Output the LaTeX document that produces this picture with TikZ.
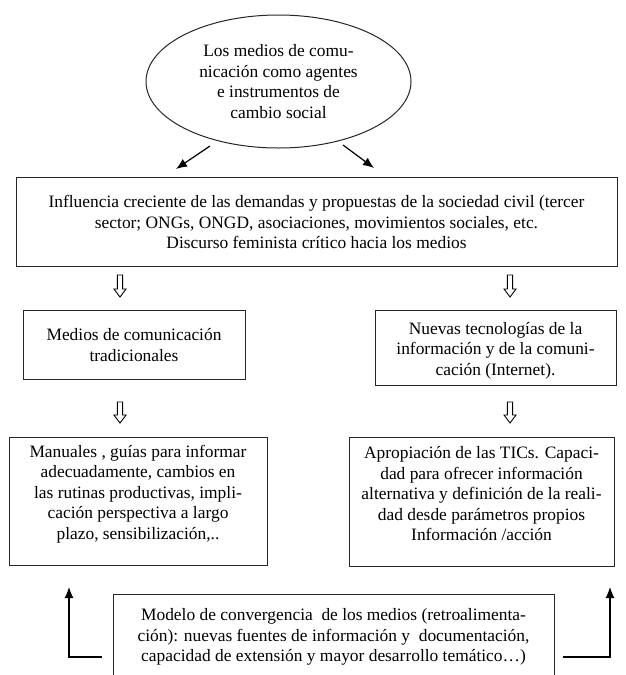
\documentclass[tikz,border=0pt]{standalone}
\usepackage{fontspec}
\setmainfont{Liberation Serif}
\usetikzlibrary{shapes.geometric,arrows.meta}
\tikzset{
  box/.style={draw=black!85, line width=1pt, inner sep=0pt},
  txt/.style={align=center, inner sep=0pt, font=\fontsize{17.4}{20.5}\selectfont},
  thin/.style={draw=black, line width=1.2pt, -{Latex[length=11pt,width=9pt]}},
  hollow/.style={draw=black, line width=0.9pt, fill=white},
}
\newcommand{\hollowarrow}[3]{%
  \draw[hollow] (#1-2.6,#2) -- (#1+2.6,#2) -- (#1+2.6,#2+#3-8) -- (#1+6,#2+#3-8) --
    (#1,#2+#3) -- (#1-6,#2+#3-8) -- (#1-2.6,#2+#3-8) -- cycle;}
\begin{document}
\begin{tikzpicture}[x=1pt,y=-1pt]
\fill[white] (0,0) rectangle (625,675);
\clip (0,0) rectangle (625,675);
% ellipse
\node[box, txt, ellipse, minimum width=265pt, minimum height=133pt] (ell) at (278.5,81.5)
  {Los medios de comu-\\nicación como agentes\\e instrumentos de\\cambio social};
\coordinate (a1s) at (210,146);
\coordinate (a1e) at (176,169);
\coordinate (a2s) at (343,145);
\coordinate (a2e) at (374,168);
\draw[thin] (a1s) -- (a1e);
\draw[thin] (a2s) -- (a2e);
% top box
\node[box, minimum width=601pt, minimum height=89pt] (top) at (316.5,221.5) {};
\node[txt] (topt) at (316.5,222)
  {Influencia creciente de las demandas y propuestas de la sociedad civil (tercer\\
   sector; ONGs, ONGD, asociaciones, movimientos sociales, etc.\\
   Discurso feminista crítico hacia los medios};
\hollowarrow{120}{275}{22}
\hollowarrow{510}{275}{22}
% middle boxes
\node[box, minimum width=222pt, minimum height=69pt] (ml) at (134,344.5) {};
\node[txt] (mlt) at (134,345) {Medios de comunicación\\tradicionales};
\node[box, minimum width=241pt, minimum height=75pt] (mr) at (495.5,347.5) {};
\node[txt] (mrt) at (495.5,350.5)
  {Nuevas tecnologías de la\\información y de la comuni-\\cación (Internet).};
\hollowarrow{120}{402}{21}
\hollowarrow{510}{402}{21}
% bottom boxes
\node[box, minimum width=258pt, minimum height=128pt] (bl) at (138,501) {};
\node[txt] (blt) at (138,494)
  {Manuales , guías para informar\\adecuadamente, cambios en\\las rutinas productivas, impli-\\cación perspectiva a largo\\plazo, sensibilización,..};
\node[box, minimum width=265pt, minimum height=129pt] (br) at (481.5,501.5) {};
\node[txt] (brt) at (481.5,494)
  {Apropiación de las TICs. Capaci-\\dad para ofrecer información\\alternativa y definición de la reali-\\dad desde parámetros propios\\Información /acción};
% last box
\node[box, minimum width=441pt, minimum height=86pt] (conv) at (333.5,637) {};
\node[txt] (convt) at (333.5,637)
  {Modelo de convergencia\ \ de los medios (retroalimenta-\\ción): nuevas fuentes de información y\ \ documentación,\\capacidad de extensión y mayor desarrollo temático…)};
\coordinate (l1) at (102,657);
\coordinate (l2) at (69,657);
\coordinate (l3) at (69,587);
\coordinate (r1) at (563,657);
\coordinate (r2) at (610,657);
\coordinate (r3) at (610,587);
\draw[thin] (l1) -- (l2) -- (l3);
\draw[thin] (r1) -- (r2) -- (r3);
\end{tikzpicture}
\end{document}
